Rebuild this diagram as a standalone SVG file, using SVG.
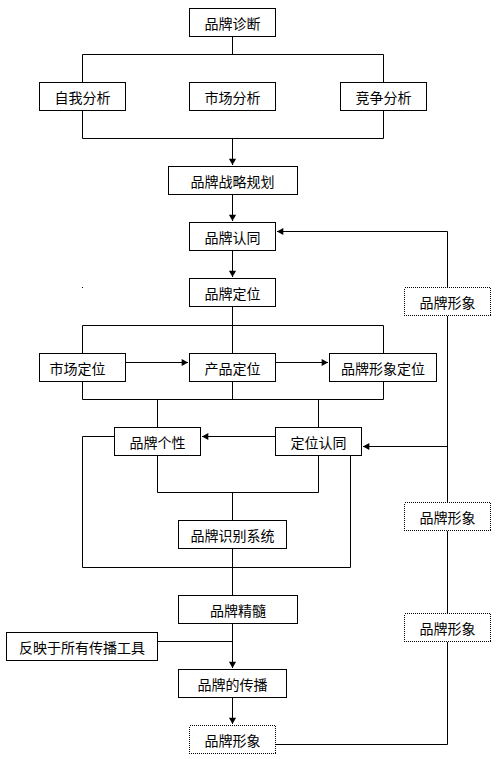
<svg xmlns="http://www.w3.org/2000/svg" width="503" height="759" viewBox="0 0 503 759">
<style>
.b{fill:#fff;stroke:#000;stroke-width:1}
.d{fill:#fff;stroke:#000;stroke-width:1;stroke-dasharray:1 1;shape-rendering:crispEdges}
.c{fill:none;stroke:#000;stroke-width:1}
text{font-family:"Noto Sans CJK SC","Noto Sans CJK TC",sans-serif;font-size:14px;fill:#000;text-anchor:middle;dominant-baseline:central}
</style>
<defs>
<marker id="a" markerUnits="userSpaceOnUse" markerWidth="9" markerHeight="9" viewBox="-1 -5 9 10" refX="7" refY="0" orient="auto">
<path d="M0,-4 L7,0 L0,4 z" fill="#000"/>
</marker>
</defs>
<rect x="82" y="287" width="1" height="1" fill="#000"/>
<g id="connectors" class="c">
<path class="c" d="M232.5,36.5V54.5M82.5,54.5H383.5M82.5,54.5V82.5M383.5,54.5V82.5"/>
<path class="c" d="M82.5,110.5V138.5M383.5,110.5V138.5M82.5,138.5H383.5"/>
<path class="c" d="M232.5,138.5V165" marker-end="url(#a)"/>
<path class="c" d="M232.5,194.5V221" marker-end="url(#a)"/>
<path class="c" d="M447.5,231.5H277" marker-end="url(#a)"/>
<path class="c" d="M447.5,231.5V744.5H275.5"/>
<path class="c" d="M232.5,250.5V277" marker-end="url(#a)"/>
<path class="c" d="M232.5,306.5V353.5M82.5,325.5H383.5M82.5,325.5V353.5M383.5,325.5V353.5"/>
<path class="c" d="M125.5,362.5H188" marker-end="url(#a)"/>
<path class="c" d="M275.5,362.5H328" marker-end="url(#a)"/>
<path class="c" d="M82.5,381.5V399.5M232.5,381.5V399.5M383.5,381.5V399.5M82.5,399.5H383.5M157.5,399.5V427.5M318.5,399.5V427.5"/>
<path class="c" d="M275.5,436.5H202" marker-end="url(#a)"/>
<path class="c" d="M114.5,436.5H82.5V567.5H350.5V455.5"/>
<path class="c" d="M447.5,446.5H363" marker-end="url(#a)"/>
<path class="c" d="M157.5,455.5V492.5H318.5V455.5M232.5,492.5V520.5"/>
<path class="c" d="M232.5,548.5V595.5"/>
<path class="c" d="M232.5,623.5V668" marker-end="url(#a)"/>
<path class="c" d="M157.5,641.5H232.5"/>
<path class="c" d="M232.5,697.5V724" marker-end="url(#a)"/>
</g>
<g id="n1"><rect class="b" x="189.5" y="8.5" width="86" height="28"/><text x="232.5" y="22.5">品牌诊断</text></g>
<g id="n2"><rect class="b" x="39.5" y="82.5" width="86" height="28"/><text x="82.5" y="96.5">自我分析</text></g>
<g id="n3"><rect class="b" x="189.5" y="82.5" width="86" height="28"/><text x="232.5" y="96.5">市场分析</text></g>
<g id="n4"><rect class="b" x="340.5" y="82.5" width="86" height="28"/><text x="383.5" y="96.5">竞争分析</text></g>
<g id="n5"><rect class="b" x="168.5" y="166.5" width="129" height="28"/><text x="232.5" y="180.5">品牌战略规划</text></g>
<g id="n6"><rect class="b" x="189.5" y="222.5" width="86" height="28"/><text x="232.5" y="236.5">品牌认同</text></g>
<g id="n7"><rect class="b" x="189.5" y="278.5" width="86" height="28"/><text x="232.5" y="292.5">品牌定位</text></g>
<g id="n8"><rect class="b" x="39.5" y="353.5" width="86" height="28"/><text x="49.5" y="367.5" style="text-anchor:start">市场定位</text></g>
<g id="n9"><rect class="b" x="189.5" y="353.5" width="86" height="28"/><text x="232.5" y="367.5">产品定位</text></g>
<g id="n10"><rect class="b" x="329.5" y="353.5" width="107" height="28"/><text x="383" y="367.5">品牌形象定位</text></g>
<g id="n11"><rect class="b" x="114.5" y="427.5" width="86" height="28"/><text x="157.5" y="441.5">品牌个性</text></g>
<g id="n12"><rect class="b" x="275.5" y="427.5" width="86" height="28"/><text x="318.5" y="441.5">定位认同</text></g>
<g id="n13"><rect class="b" x="178.5" y="520.5" width="108" height="28"/><text x="232.5" y="534.5">品牌识别系统</text></g>
<g id="n14"><rect class="b" x="178.5" y="595.5" width="119" height="28"/><text x="238" y="609.5">品牌精髓</text></g>
<g id="n15"><rect class="b" x="6.5" y="632.5" width="151" height="28"/><text x="82" y="646.5">反映于所有传播工具</text></g>
<g id="n16"><rect class="b" x="178.5" y="669.5" width="108" height="28"/><text x="232.5" y="683.5">品牌的传播</text></g>
<g id="n17"><rect class="d" x="189.5" y="725.5" width="86" height="28"/><text x="232.5" y="739.5">品牌形象</text></g>
<g id="n18"><rect class="d" x="404.5" y="287.5" width="86" height="28"/><text x="447.5" y="301.5">品牌形象</text></g>
<g id="n19"><rect class="d" x="404.5" y="502.5" width="86" height="28"/><text x="447.5" y="516.5">品牌形象</text></g>
<g id="n20"><rect class="d" x="404.5" y="613.5" width="86" height="28"/><text x="447.5" y="627.5">品牌形象</text></g>
</svg>
